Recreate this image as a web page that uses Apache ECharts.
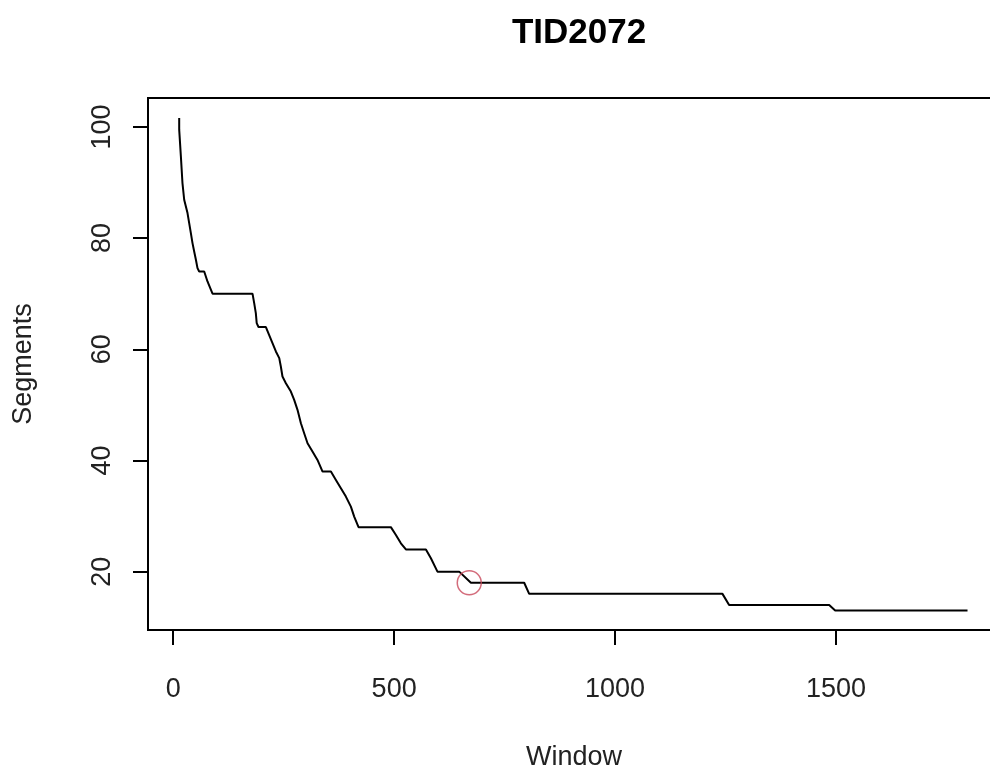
<!DOCTYPE html>
<html><head><meta charset="utf-8">
<script src="https://cdn.jsdelivr.net/npm/echarts@6/dist/echarts.min.js"></script>
<style>html,body{margin:0;padding:0;background:#fff}#c{width:990px;height:774px}</style>
</head><body><div id="c"></div>
<script>
const windowX = [13.6, 13.6, 17.4, 17.4, 21, 21, 24.9, 24.9, 28.7, 32.4, 36.2, 40, 43.7, 47.5, 51.4, 55, 58.8, 70.2, 77.6, 89, 179.5, 183.3, 187, 189, 193, 209.8, 217, 224.7, 232.4, 240, 243.6, 247.3, 255, 266.3, 273.8, 281.3, 289, 296.4, 304, 315.2, 326.5, 338, 356.9, 368.2, 379.5, 390.8, 402.1, 409.6, 419.4, 492.6, 504, 515.3, 526.6, 571.9, 583.2, 598, 647.2, 673.7, 794.3, 805.6, 1243, 1258, 1484.5, 1498, 1797.5];
const segmentsY = [101.6, 99.5, 99.5, 94.7, 94.7, 89.9, 89.6, 86.9, 86.6, 84.5, 82.7, 80.9, 79.1, 77.6, 76.1, 74.6, 74, 74, 72.2, 70, 70, 68.3, 66.5, 64.7, 64, 64, 62.6, 61.1, 59.6, 58.4, 56.9, 55.1, 53.9, 52.4, 50.9, 49.1, 46.7, 44.9, 43.1, 41.6, 40.1, 38, 38, 36.5, 35, 33.5, 31.7, 29.9, 28, 28, 26.6, 25.1, 24, 24, 22.4, 20, 20, 18, 18, 16, 16, 14, 14, 13, 13];
const markerX = [670];
const markerY = [18];
const xTicks = [0, 500, 1000, 1500];
const yTicks = [20, 40, 60, 80, 100];
const titleText = 'TID2072';
const xName = 'Window';
const yName = 'Segments';

const FONT = 'Liberation Sans, Arial, sans-serif';
const chart = echarts.init(document.getElementById('c'), null, {renderer: 'canvas'});
const lineData = windowX.map((x, i) => [x, segmentsY[i]]);
const markerData = markerX.map((x, i) => [x, markerY[i]]);

const tickStyle = {show: true, inside: false, length: 15, lineStyle: {color: '#000', width: 2}};

chart.setOption({
  animation: false,
  backgroundColor: '#fff',
  title: {
    text: titleText,
    left: 574, textAlign: 'center', top: 11,
    textStyle: {fontFamily: FONT, fontSize: 35, fontWeight: 'bold', color: '#000'}
  },
  grid: {
    left: 148, top: 98, width: 852, height: 532,
    show: true, borderColor: '#000', borderWidth: 2, backgroundColor: 'transparent',
    containLabel: false, outerBoundsMode: 'none'
  },
  xAxis: {
    type: 'value', min: -57, max: 1871,
    name: xName, nameLocation: 'middle', nameGap: 114,
    nameTextStyle: {fontFamily: FONT, fontSize: 27, color: '#222'},
    axisLine: {show: false, onZero: false},
    splitLine: {show: false},
    axisTick: Object.assign({customValues: xTicks}, tickStyle),
    axisLabel: {customValues: xTicks, margin: 46, fontFamily: FONT, fontSize: 27, color: '#222', formatter: v => String(v)}
  },
  yAxis: {
    type: 'value', min: 9.5, max: 105.2,
    name: yName, nameLocation: 'middle', nameGap: 111, nameMoveOverlap: false,
    nameTextStyle: {fontFamily: FONT, fontSize: 27, color: '#222'},
    axisLine: {show: false, onZero: false},
    splitLine: {show: false},
    axisTick: Object.assign({customValues: yTicks}, tickStyle),
    axisLabel: {customValues: yTicks, rotate: 90, margin: 32, hideOverlap: false, fontFamily: FONT, fontSize: 27, color: '#222', formatter: v => String(v)}
  },
  series: [
    {
      type: 'line', data: lineData, showSymbol: false, symbol: 'none',
      lineStyle: {color: '#000', width: 2}, z: 2
    },
    {
      type: 'scatter', data: markerData, symbol: 'circle', symbolSize: 24,
      itemStyle: {color: 'rgba(0,0,0,0)', borderColor: '#c8475a', borderWidth: 1.5}, z: 3
    }
  ]
});
</script>
</body></html>
